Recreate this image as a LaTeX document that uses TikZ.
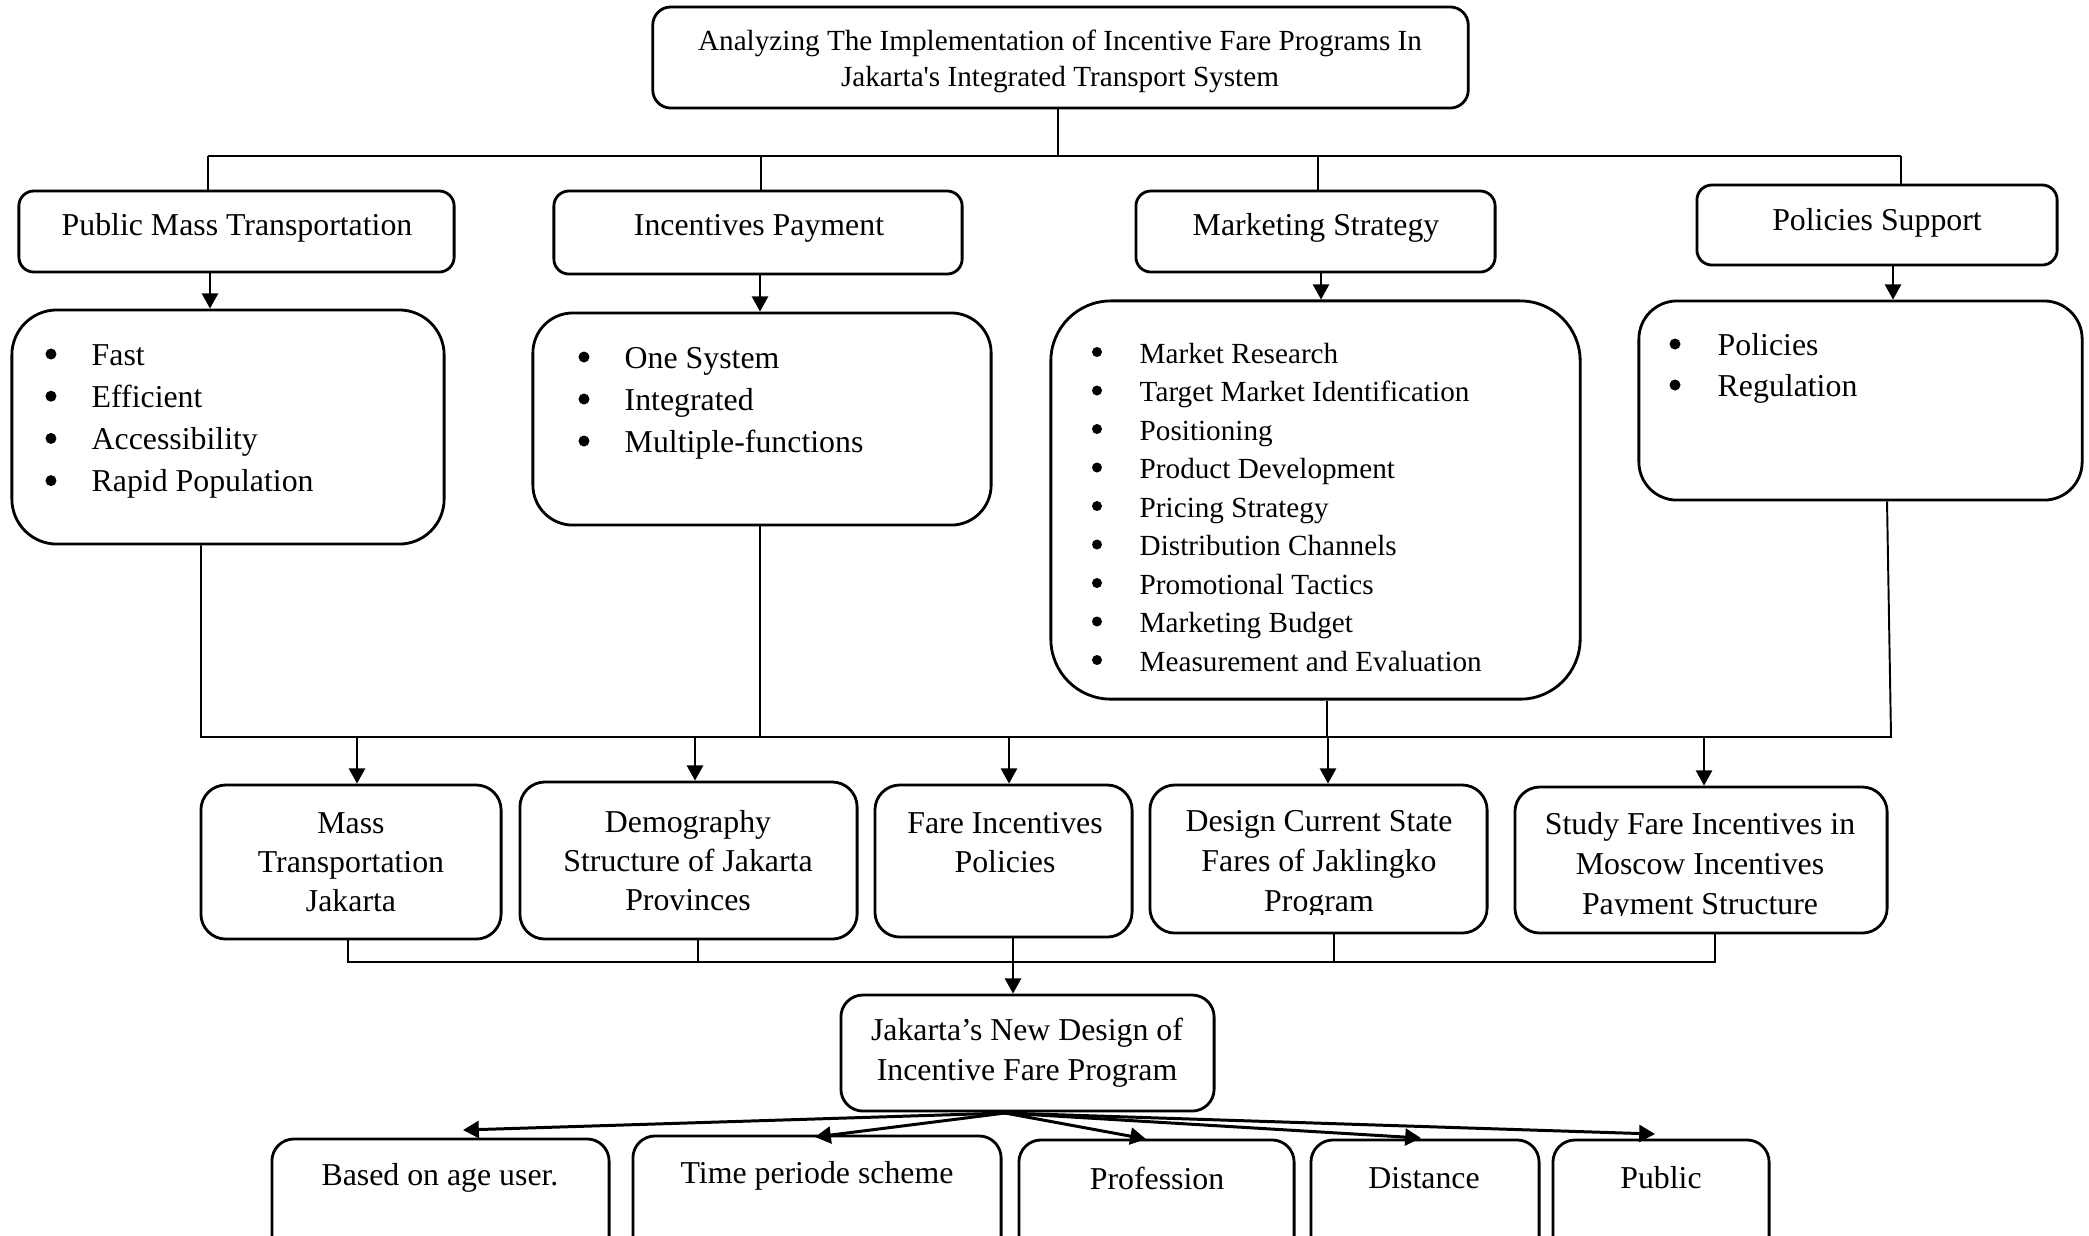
\documentclass[tikz,border=0pt]{standalone}
\usepackage{fontspec}
\setmainfont{Liberation Serif}
\usetikzlibrary{arrows.meta}
\begin{document}
\begin{tikzpicture}[x=0.01cm, y=-0.01cm,
  box/.style={draw, line width=0.8pt, rounded corners=#1, inner sep=0pt},
  box/.default=0.2cm,
  conn/.style={line width=0.55pt},
  arr/.style={conn, -{Triangle[length=4.3pt,width=4.6pt]}},
  fanarr/.style={line width=0.85pt, -{Triangle[length=4.5pt,width=4.8pt]}},
  lbl/.style={inner sep=0pt, align=center, font=\fontsize{9.05}{11.1}\selectfont},
  ttl/.style={inner sep=0pt, align=center, font=\fontsize{8.3}{10.25}\selectfont},
  item/.style={inner sep=0pt, anchor=mid west, font=\fontsize{9.05}{12}\selectfont},
  smallitem/.style={item, font=\fontsize{8.3}{11}\selectfont},
]
\useasboundingbox (0,0) rectangle (2089,1235);
\clip (0,0) rectangle (2089,1235);

% ---------- boxes ----------
\node[box=0.18cm, minimum width=8.15cm, minimum height=1.01cm] (title) at (1060.5,57.5) {};
\node[box=0.15cm, minimum width=4.35cm, minimum height=0.81cm] (pmt) at (236.5,231.5) {};
\node[box=0.15cm, minimum width=4.08cm, minimum height=0.83cm] (ip)  at (758,232.5) {};
\node[box=0.15cm, minimum width=3.59cm, minimum height=0.81cm] (ms)  at (1315.5,231.5) {};
\node[box=0.15cm, minimum width=3.60cm, minimum height=0.80cm] (ps)  at (1877,225) {};

\node[box=0.45cm, minimum width=4.32cm, minimum height=2.34cm] (pmtd) at (228,427) {};
\node[box=0.40cm, minimum width=4.58cm, minimum height=2.12cm] (ipd)  at (762,419) {};
\node[box=0.60cm, minimum width=5.29cm, minimum height=3.98cm] (msd)  at (1315.5,500) {};
\node[box=0.38cm, minimum width=4.43cm, minimum height=1.99cm] (psd)  at (1860.5,400.5) {};

\node[box=0.25cm, minimum width=3.00cm, minimum height=1.54cm] (mtj) at (351,862) {};
\node[box=0.25cm, minimum width=3.37cm, minimum height=1.57cm] (dem) at (688.5,860.5) {};
\node[box=0.25cm, minimum width=2.57cm, minimum height=1.52cm] (fip) at (1003.5,861) {};
\node[box=0.25cm, minimum width=3.37cm, minimum height=1.48cm] (des) at (1318.5,859) {};
\node[box=0.25cm, minimum width=3.72cm, minimum height=1.46cm] (stu) at (1701,860) {};

\node[box=0.22cm, minimum width=3.73cm, minimum height=1.16cm] (jak) at (1027.5,1053) {};

\node[box=0.22cm, minimum width=3.37cm, minimum height=1.61cm] (age)  at (440.5,1219.5) {};
\node[box=0.22cm, minimum width=3.68cm, minimum height=1.64cm] (time) at (817,1218) {};
\node[box=0.22cm, minimum width=2.75cm, minimum height=1.60cm] (prof) at (1156.5,1220) {};
\node[box=0.22cm, minimum width=2.28cm, minimum height=1.60cm] (dist) at (1425,1220) {};
\node[box=0.22cm, minimum width=2.16cm, minimum height=1.60cm] (pub)  at (1661,1220) {};

% ---------- texts ----------
\node[ttl] (title-t) at (1060,61) {Analyzing The Implementation of Incentive Fare Programs In\\Jakarta\textquotesingle s Integrated Transport System};
\node[lbl] (pmt-t) at (237,228) {Public Mass Transportation};
\node[lbl] (ip-t)  at (759,228) {Incentives Payment};
\node[lbl] (ms-t)  at (1316,228) {Marketing Strategy};
\node[lbl] (ps-t)  at (1877,223) {Policies Support};

% bullet lists: text lines, each with a round bullet in front
\foreach \t [count=\i] in {Fast,Efficient,Accessibility,Rapid Population}{
  \node[item] (pmtd-\i) at (91,{357+(\i-1)*42.2}) {\t};
  \fill ([xshift=-0.40cm,yshift=0.03cm]pmtd-\i.mid west) circle (0.055cm);
}
\foreach \t [count=\i] in {One System,Integrated,Multiple-functions}{
  \node[item] (ipd-\i) at (624,{360+(\i-1)*42}) {\t};
  \fill ([xshift=-0.40cm,yshift=0.03cm]ipd-\i.mid west) circle (0.055cm);
}
\foreach \t [count=\i] in {Market Research,Target Market Identification,Positioning,Product Development,Pricing Strategy,Distribution Channels,Promotional Tactics,Marketing Budget,Measurement and Evaluation}{
  \node[smallitem] (msd-\i) at (1139,{355+(\i-1)*38.5}) {\t};
  \fill ([xshift=-0.42cm,yshift=0.03cm]msd-\i.mid west) circle (0.05cm);
}
\foreach \t [count=\i] in {Policies,Regulation}{
  \node[item] (psd-\i) at (1717,{347+(\i-1)*41}) {\t};
  \fill ([xshift=-0.42cm,yshift=0.03cm]psd-\i.mid west) circle (0.055cm);
}

\node[lbl] (mtj-t) at (351,862) {Mass\\Transportation\\Jakarta};
\node[lbl] (dem-t) at (688,861) {Demography\\Structure of Jakarta\\Provinces};
\node[lbl] (fip-t) at (1005,843) {Fare Incentives\\Policies};
\begin{scope}
  \clip (des.north west) rectangle ([yshift=0.2cm]des.south east);
  \node[lbl, font=\fontsize{9.05}{11.35}\selectfont] (des-t) at (1319,864) {Design Current State\\Fares of Jaklingko\\Program};
\end{scope}
\begin{scope}
  \clip (stu.north west) rectangle ([yshift=0.19cm]stu.south east);
  \node[lbl, font=\fontsize{9.05}{11.3}\selectfont] (stu-t) at (1700,867) {Study Fare Incentives in\\Moscow Incentives\\Payment Structure};
\end{scope}

\node[lbl, font=\fontsize{9.05}{11.4}\selectfont] (jak-t) at (1027,1053) {Jakarta’s New Design of\\Incentive Fare Program};

\node[lbl] (age-t)  at (440,1178) {Based on age user.};
\node[lbl] (time-t) at (817,1176) {Time periode scheme};
\node[lbl] (prof-t) at (1157,1178) {Profession};
\node[lbl] (dist-t) at (1424,1178) {Distance};
\node[lbl] (pub-t)  at (1661,1178) {Public};

% ---------- connectors: title to first row ----------
\coordinate (tj) at (1058,156);
\coordinate (busA) at (208,156);
\coordinate (busB) at (1901,156);
\draw[conn] (title.south -| tj) -- (tj);
\draw[conn] (busA) -- (busB);
\foreach \n/\x in {pmt/208, ip/761, ms/1318, ps/1901}
  \draw[conn] (busA -| \x,0) -- (\n.north -| \x,0);

% first row to detail boxes
\foreach \a/\b/\x in {pmt/pmtd/210, ip/ipd/760, ms/msd/1321, ps/psd/1893}
  \draw[arr] (\a.south -| \x,0) -- (\b.north -| \x,0);

% detail boxes to the collecting line
\coordinate (busL) at (201,737);
\coordinate (busR) at (1891,737);
\draw[conn] (pmtd.south -| busL) -- (busL) -- (busR) -- (psd.south -| 1887,0);
\draw[conn] (ipd.south -| 760,0) -- (busL -| 760,0);
\draw[conn] (msd.south -| 1327,0) -- (busL -| 1327,0);
\foreach \n/\x in {mtj/357, dem/695, fip/1009, des/1328, stu/1704}
  \draw[arr] (busL -| \x,0) -- (\n.north -| \x,0);

% second row to the new design
\coordinate (lbL) at (348,962);
\coordinate (lbR) at (1715,962);
\draw[conn] (mtj.south -| lbL) -- (lbL) -- (lbR) -- (stu.south -| lbR);
\draw[conn] (dem.south -| 698,0) -- (lbL -| 698,0);
\draw[conn] (des.south -| 1334,0) -- (lbL -| 1334,0);
\draw[arr] (fip.south -| 1013,0) -- (jak.north -| 1013,0);

% fan to the scheme options
\coordinate (fan) at (1005,1113);
\coordinate (tage) at (463,1130);
\coordinate (ttime) at (815,1137);
\coordinate (tprof) at (1146,1139);
\coordinate (tdist) at (1421,1138);
\coordinate (tpub) at (1655,1134);
\foreach \t in {tage,ttime,tprof,tdist,tpub}
  \draw[fanarr] (fan) -- (\t);
\end{tikzpicture}
\end{document}
